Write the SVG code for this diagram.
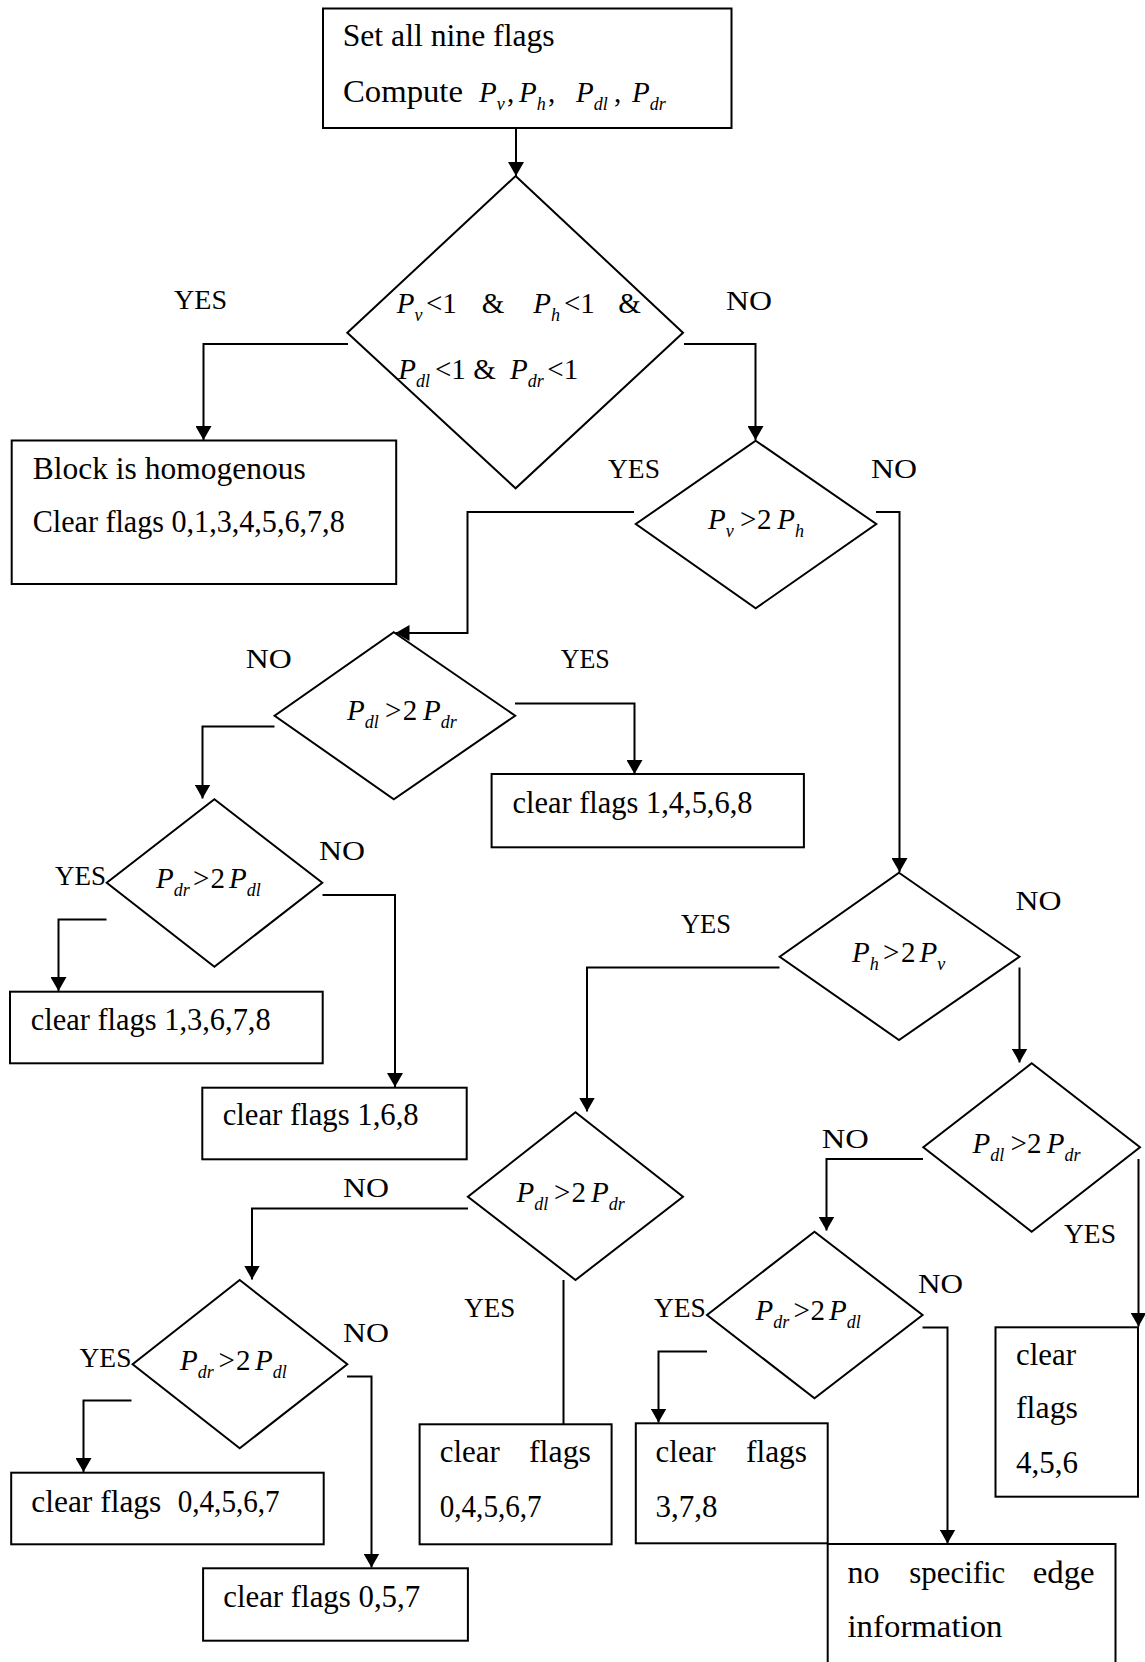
<svg xmlns="http://www.w3.org/2000/svg" width="1145" height="1662" viewBox="0 0 1145 1662">
<style>
text{font-family:"Liberation Serif","Times New Roman",serif;fill:#000}
.t{font-size:31px}
.lbl{font-size:28px}
.m{font-size:29px}
.mi{font-style:italic}
.s{font-size:18px;font-style:italic}
.box{fill:#fff;stroke:#000;stroke-width:2}
.c path{fill:none;stroke:#000;stroke-width:2}
.arr{marker-end:url(#ah)}
</style>
<defs>
<marker id="ah" markerUnits="userSpaceOnUse" markerWidth="14" markerHeight="16" refX="14" refY="8" orient="auto" viewBox="0 0 14 16"><path d="M0,0 L14,8 L0,16 Z" fill="#000"/></marker>
</defs>
<g id="connectors" class="c">
<path class="arr" d="M516,128 V176"/>
<path class="arr" d="M348,344 H203.5 V440"/>
<path class="arr" d="M684,344 H755.5 V440"/>
<path class="arr" d="M634,512 H467.5 V633 H395.5"/>
<path class="arr" d="M876,512 H899.5 V872"/>
<path class="arr" d="M515,703.5 H634.5 V774"/>
<path class="arr" d="M274.5,726.5 H202.5 V798.5"/>
<path class="arr" d="M106.5,919.5 H58.5 V991"/>
<path class="arr" d="M322.5,895 H395 V1087"/>
<path class="arr" d="M779.5,967.5 H587 V1111.5"/>
<path class="arr" d="M1019.5,967.5 V1062.5"/>
<path class="arr" d="M923,1159 H826.5 V1230.5"/>
<path class="arr" d="M1138.5,1159 V1326.5"/>
<path class="arr" d="M468,1208.5 H252 V1279.5"/>
<path d="M563.5,1280 V1424"/>
<path class="arr" d="M131.5,1400.5 H83.5 V1472"/>
<path class="arr" d="M347,1376.5 H371.5 V1567.5"/>
<path class="arr" d="M707,1351.5 H658.5 V1422.5"/>
<path class="arr" d="M922.5,1327.5 H947.5 V1543.5"/>
</g>
<g id="start">
<rect class="box" x="323" y="8.5" width="408.5" height="119.5"/>
<text class="t" x="342.7" y="46" textLength="212" lengthAdjust="spacingAndGlyphs">Set all nine flags</text>
<text class="t" x="343" y="102" textLength="120" lengthAdjust="spacingAndGlyphs">Compute</text>
<text class="m"><tspan class="mi" x="479" y="102">P</tspan><tspan class="s" dy="8">v</tspan><tspan x="507" y="102">,</tspan><tspan class="mi" x="519" y="102">P</tspan><tspan class="s" dy="8">h</tspan><tspan x="548" y="102">,</tspan><tspan class="mi" x="576" y="102">P</tspan><tspan class="s" dy="8">dl</tspan><tspan x="614" y="102">,</tspan><tspan class="mi" x="632" y="102">P</tspan><tspan class="s" dy="8">dr</tspan></text>
</g>
<g id="d1">
<polygon class="box" points="515.6,176 683,332.7 515.6,488.3 347.3,332.7"/>
<text class="m"><tspan class="mi" x="396.7" y="313.3">P</tspan><tspan class="s" dy="8">v</tspan><tspan x="426" y="313.3">&lt;1</tspan><tspan x="481.7" y="313.3">&amp;</tspan><tspan class="mi" x="533.3" y="313.3">P</tspan><tspan class="s" dy="8">h</tspan><tspan x="564" y="313.3">&lt;1</tspan><tspan x="618.3" y="313.3">&amp;</tspan></text>
<text class="m"><tspan class="mi" x="398.3" y="379.3">P</tspan><tspan class="s" dy="8">dl</tspan><tspan x="435" y="379.3">&lt;1</tspan><tspan x="473.3" y="379.3">&amp;</tspan><tspan class="mi" x="510" y="379.3">P</tspan><tspan class="s" dy="8">dr</tspan><tspan x="547.3" y="379.3">&lt;1</tspan></text>
</g>
<g id="homog">
<rect class="box" x="11.7" y="440.5" width="384.5" height="143.5"/>
<text class="t" x="32.7" y="479.3" textLength="273" lengthAdjust="spacingAndGlyphs">Block is homogenous</text>
<text class="t" x="32.7" y="531.7" textLength="312" lengthAdjust="spacingAndGlyphs">Clear flags 0,1,3,4,5,6,7,8</text>
</g>
<g id="d2">
<polygon class="box" points="755.7,440.7 876.3,524 755.7,608.3 635.8,524"/>
<text class="m"><tspan class="mi" x="708" y="529.3">P</tspan><tspan class="s" dy="8">v</tspan><tspan x="740" y="529.3">&gt;</tspan><tspan x="757" y="529.3">2</tspan><tspan class="mi" x="777.3" y="529.3">P</tspan><tspan class="s" dy="8">h</tspan></text>
</g>
<g id="d3">
<polygon class="box" points="393.8,632.3 515.2,715.7 393.8,799.3 274.6,715.7"/>
<text class="m"><tspan class="mi" x="347" y="720">P</tspan><tspan class="s" dy="8">dl</tspan><tspan x="385" y="720">&gt;</tspan><tspan x="402.7" y="720">2</tspan><tspan class="mi" x="423" y="720">P</tspan><tspan class="s" dy="8">dr</tspan></text>
</g>
<g id="b14568">
<rect class="box" x="491.6" y="774" width="312.3" height="73.3"/>
<text class="t" x="512.5" y="812.7" textLength="240" lengthAdjust="spacingAndGlyphs">clear flags 1,4,5,6,8</text>
</g>
<g id="d4">
<polygon class="box" points="214.4,799.3 322.3,882.7 214.4,966.7 106.7,882.7"/>
<text class="m"><tspan class="mi" x="156" y="888.3">P</tspan><tspan class="s" dy="8">dr</tspan><tspan x="193" y="888.3">&gt;</tspan><tspan x="210.5" y="888.3">2</tspan><tspan class="mi" x="229" y="888.3">P</tspan><tspan class="s" dy="8">dl</tspan></text>
</g>
<g id="b13678">
<rect class="box" x="10" y="991.7" width="312.7" height="71.6"/>
<text class="t" x="30.7" y="1030" textLength="240" lengthAdjust="spacingAndGlyphs">clear flags 1,3,6,7,8</text>
</g>
<g id="b168">
<rect class="box" x="202.3" y="1087.7" width="264.4" height="71.6"/>
<text class="t" x="222.7" y="1125" textLength="196" lengthAdjust="spacingAndGlyphs">clear flags 1,6,8</text>
</g>
<g id="d5">
<polygon class="box" points="899,872.7 1019.5,956.7 899,1040 779.7,956.7"/>
<text class="m"><tspan class="mi" x="852" y="961.7">P</tspan><tspan class="s" dy="8">h</tspan><tspan x="883" y="961.7">&gt;</tspan><tspan x="901" y="961.7">2</tspan><tspan class="mi" x="919.6" y="961.7">P</tspan><tspan class="s" dy="8">v</tspan></text>
</g>
<g id="d6">
<polygon class="box" points="1031.7,1063.3 1140,1147.3 1031.7,1231.7 923.3,1147.3"/>
<text class="m"><tspan class="mi" x="972.5" y="1153.3">P</tspan><tspan class="s" dy="8">dl</tspan><tspan x="1010.5" y="1153.3">&gt;</tspan><tspan x="1027" y="1153.3">2</tspan><tspan class="mi" x="1046.7" y="1153.3">P</tspan><tspan class="s" dy="8">dr</tspan></text>
</g>
<g id="b456">
<rect class="box" x="995.5" y="1327.3" width="142.5" height="169.4"/>
<text class="t" x="1016" y="1365" textLength="60" lengthAdjust="spacingAndGlyphs">clear</text>
<text class="t" x="1016" y="1418.3" textLength="62" lengthAdjust="spacingAndGlyphs">flags</text>
<text class="t" x="1016" y="1473.3">4,5,6</text>
</g>
<g id="d7">
<polygon class="box" points="575.5,1112.3 683,1196.7 575.5,1280 467.9,1196.7"/>
<text class="m"><tspan class="mi" x="516.5" y="1201.7">P</tspan><tspan class="s" dy="8">dl</tspan><tspan x="554" y="1201.7">&gt;</tspan><tspan x="571.4" y="1201.7">2</tspan><tspan class="mi" x="591" y="1201.7">P</tspan><tspan class="s" dy="8">dr</tspan></text>
</g>
<g id="b04567r">
<rect class="box" x="419.6" y="1424.3" width="192" height="120"/>
<text class="t" x="439.7" y="1461.7" textLength="60" lengthAdjust="spacingAndGlyphs">clear</text>
<text class="t" x="529" y="1461.7" textLength="62" lengthAdjust="spacingAndGlyphs">flags</text>
<text class="t" x="439.7" y="1516.7" textLength="102" lengthAdjust="spacingAndGlyphs">0,4,5,6,7</text>
</g>
<g id="d8">
<polygon class="box" points="239.7,1280 347.3,1364.3 239.7,1448.3 132.6,1364.3"/>
<text class="m"><tspan class="mi" x="180" y="1370">P</tspan><tspan class="s" dy="8">dr</tspan><tspan x="218.5" y="1370">&gt;</tspan><tspan x="236" y="1370">2</tspan><tspan class="mi" x="255" y="1370">P</tspan><tspan class="s" dy="8">dl</tspan></text>
</g>
<g id="b04567l">
<rect class="box" x="11.2" y="1472.7" width="312.5" height="71.6"/>
<text class="t" x="31.3" y="1511.7" textLength="130" lengthAdjust="spacingAndGlyphs">clear flags</text>
<text class="t" x="177.7" y="1511.7" textLength="102" lengthAdjust="spacingAndGlyphs">0,4,5,6,7</text>
</g>
<g id="b057">
<rect class="box" x="203.1" y="1568.3" width="264.8" height="72.4"/>
<text class="t" x="223.2" y="1606.7" textLength="197" lengthAdjust="spacingAndGlyphs">clear flags 0,5,7</text>
</g>
<g id="d9">
<polygon class="box" points="814.5,1231.7 922.6,1315 814.5,1398.3 707,1315"/>
<text class="m"><tspan class="mi" x="755.5" y="1320">P</tspan><tspan class="s" dy="8">dr</tspan><tspan x="793.5" y="1320">&gt;</tspan><tspan x="810.5" y="1320">2</tspan><tspan class="mi" x="829" y="1320">P</tspan><tspan class="s" dy="8">dl</tspan></text>
</g>
<g id="b378">
<rect class="box" x="635.8" y="1423.3" width="191.9" height="120"/>
<text class="t" x="655.6" y="1461.7" textLength="60" lengthAdjust="spacingAndGlyphs">clear</text>
<text class="t" x="746" y="1461.7" textLength="61" lengthAdjust="spacingAndGlyphs">flags</text>
<text class="t" x="655.6" y="1516.7">3,7,8</text>
</g>
<g id="noinfo">
<rect class="box" x="827.7" y="1544" width="287.8" height="130"/>
<text class="t" x="847.5" y="1583.3" textLength="32" lengthAdjust="spacingAndGlyphs">no</text>
<text class="t" x="909.3" y="1583.3" textLength="96" lengthAdjust="spacingAndGlyphs">specific</text>
<text class="t" x="1032.7" y="1583.3" textLength="62" lengthAdjust="spacingAndGlyphs">edge</text>
<text class="t" x="847.5" y="1636.7" textLength="155" lengthAdjust="spacingAndGlyphs">information</text>
</g>
<g id="labels">
<text class="lbl" x="174" y="309" textLength="53" lengthAdjust="spacingAndGlyphs">YES</text>
<text class="lbl" x="726" y="310" textLength="46" lengthAdjust="spacingAndGlyphs">NO</text>
<text class="lbl" x="608" y="477.5" textLength="52" lengthAdjust="spacingAndGlyphs">YES</text>
<text class="lbl" x="871" y="478" textLength="46" lengthAdjust="spacingAndGlyphs">NO</text>
<text class="lbl" x="245.8" y="668.3" textLength="46" lengthAdjust="spacingAndGlyphs">NO</text>
<text class="lbl" x="560.7" y="668.3" textLength="49" lengthAdjust="spacingAndGlyphs">YES</text>
<text class="lbl" x="55" y="885" textLength="51" lengthAdjust="spacingAndGlyphs">YES</text>
<text class="lbl" x="319" y="860" textLength="46" lengthAdjust="spacingAndGlyphs">NO</text>
<text class="lbl" x="681" y="933.3" textLength="50" lengthAdjust="spacingAndGlyphs">YES</text>
<text class="lbl" x="1015.4" y="910" textLength="46" lengthAdjust="spacingAndGlyphs">NO</text>
<text class="lbl" x="821.7" y="1148.3" textLength="47" lengthAdjust="spacingAndGlyphs">NO</text>
<text class="lbl" x="1064" y="1243.3" textLength="52" lengthAdjust="spacingAndGlyphs">YES</text>
<text class="lbl" x="342.9" y="1196.7" textLength="46" lengthAdjust="spacingAndGlyphs">NO</text>
<text class="lbl" x="464.3" y="1316.7" textLength="51" lengthAdjust="spacingAndGlyphs">YES</text>
<text class="lbl" x="79.5" y="1366.7" textLength="52" lengthAdjust="spacingAndGlyphs">YES</text>
<text class="lbl" x="342.9" y="1341.7" textLength="46" lengthAdjust="spacingAndGlyphs">NO</text>
<text class="lbl" x="653.9" y="1316.7" textLength="52" lengthAdjust="spacingAndGlyphs">YES</text>
<text class="lbl" x="918" y="1293.3" textLength="45" lengthAdjust="spacingAndGlyphs">NO</text>
</g>
</svg>
